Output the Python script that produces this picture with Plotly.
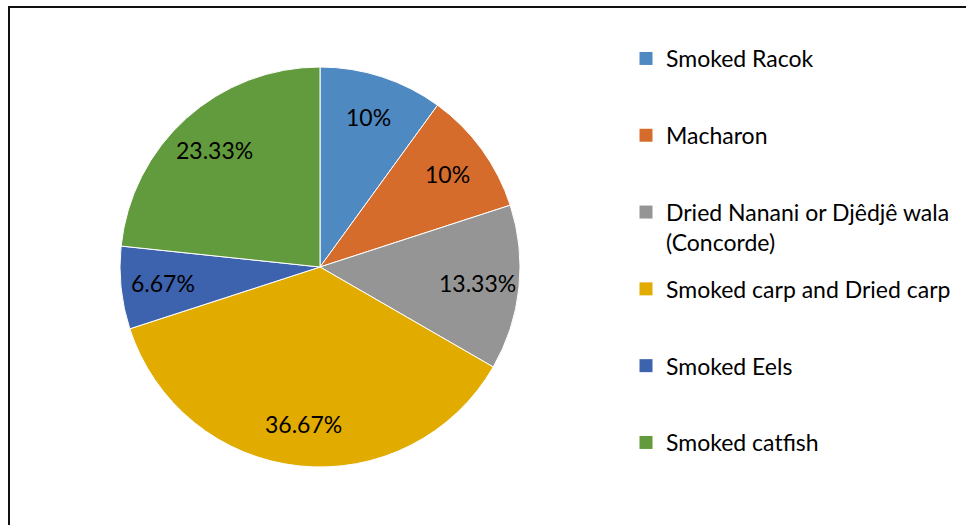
import math
import plotly.graph_objects as go

categories = ["Smoked Racok", "Macharon", "Dried Nanani or Djêdjê wala<br>(Concorde)",
              "Smoked carp and Dried carp", "Smoked Eels", "Smoked catfish"]
values = [10, 10, 13.33, 36.67, 6.67, 23.33]
colors = ["#4F89C2", "#D56C2B", "#959595", "#E2AB00", "#3D63AE", "#629B3D"]

W, H = 966, 525
cx, cy, R = 320, 267, 200
FONT = "Lato"
TXT = 23

text = [f"{v:g}%" for v in values]

fig = go.Figure(go.Pie(
    labels=categories,
    values=values,
    textinfo="none",
    marker=dict(colors=colors, line=dict(color="white", width=1)),
    sort=False,
    direction="clockwise",
    rotation=0,
    hoverinfo="label+percent",
    showlegend=False,
    domain=dict(x=[(cx - R) / W, (cx + R) / W], y=[(H - cy - R) / H, (H - cy + R) / H]),
))

# legend entries (one per category), each padded to two lines so slots are equal
for c, col in zip(categories, colors):
    n = c.count("<br>") + 1
    label = c + "<br> " * (2 - n)
    fig.add_trace(go.Scatter(x=[None], y=[None], mode="markers", name=label,
                             legendgroup=c, hoverinfo="skip",
                             marker=dict(symbol="square", size=13, color=col)))

# data labels placed at slice mid-angles derived from the values
total = sum(values)
cum = 0.0
annotations = []
for v, t in zip(values, text):
    mid = (cum + v / 2) / total
    cum += v
    theta = math.radians(90 - 360 * mid)
    r = 0.79 * R
    px = cx + r * math.cos(theta)
    py = cy - r * math.sin(theta)
    annotations.append(dict(x=px / W, y=1 - py / H, xref="paper", yref="paper",
                            text=t, showarrow=False, xanchor="center", yanchor="middle",
                            font=dict(family=FONT, size=TXT, color="#000000")))

fig.update_layout(
    width=W, height=H,
    margin=dict(l=0, r=0, t=0, b=0),
    paper_bgcolor="white",
    plot_bgcolor="white",
    font=dict(family=FONT, size=TXT, color="#000000"),
    annotations=annotations,
    xaxis=dict(visible=False),
    yaxis=dict(visible=False),
    legend=dict(x=(666 - 40) / W, xanchor="left", y=1 - 37 / H, yanchor="top",
                valign="top", tracegroupgap=14, traceorder="grouped",
                font=dict(family=FONT, size=TXT, color="#000000"),
                bgcolor="rgba(0,0,0,0)"),
    shapes=[dict(type="rect", xref="paper", yref="paper",
                 x0=9 / W, x1=1.02, y0=-0.02, y1=1 - 7 / H,
                 line=dict(color="#111111", width=2))],
)

fig.write_html("out.html", config={"displayModeBar": False},
               post_script="document.body.style.margin='0px';")
